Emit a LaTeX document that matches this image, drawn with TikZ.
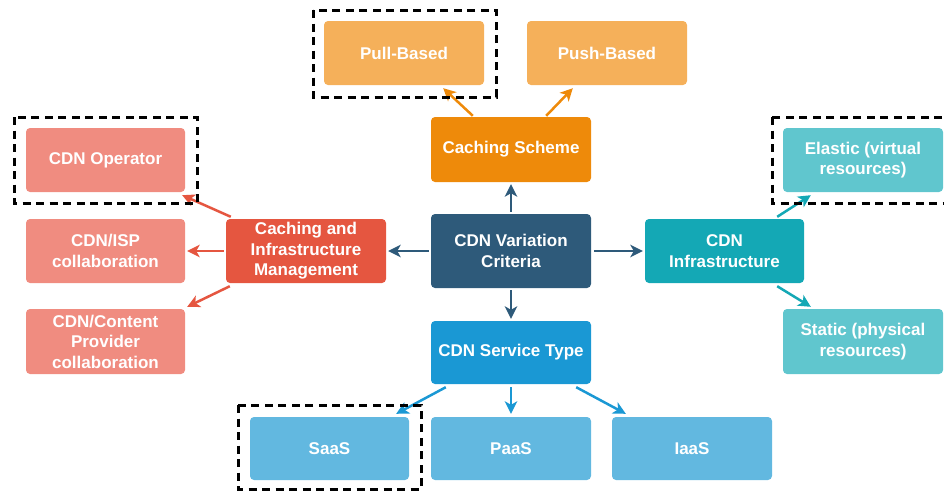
\documentclass[tikz,border=0pt]{standalone}
\usepackage{fontspec}
\setmainfont{Liberation Sans}
\usetikzlibrary{arrows.meta}

\definecolor{cdark}{HTML}{2E5A7A}
\definecolor{corange}{HTML}{EE8A0A}
\definecolor{corangel}{HTML}{F5B05A}
\definecolor{cred}{HTML}{E55640}
\definecolor{credl}{HTML}{F08C80}
\definecolor{cteal}{HTML}{14A8B5}
\definecolor{ctealb}{HTML}{60C6CE}
\definecolor{cblue}{HTML}{1A98D4}
\definecolor{cbluel}{HTML}{62B8E0}

\tikzset{
  box/.style={rectangle, rounded corners=4pt, text=white, align=center,
    font=\fontsize{17}{20.5}\selectfont\bfseries,
    minimum width=160pt, minimum height=64pt, inner sep=2pt},
  arr/.style={line width=2.5pt,
    -{Stealth[length=12.5pt,width=12.5pt,inset=3.5pt]}},
  hl/.style={draw=black, line width=3pt, dash pattern=on 8pt off 5.5pt}
}

\begin{document}
\begin{tikzpicture}[x=1pt,y=-1pt]
\useasboundingbox (0,0) rectangle (944,491);
\clip (0,0) rectangle (944,491);

% main node
\node[box, fill=cdark, minimum height=74pt] (crit) at (511,251) {CDN Variation\\Criteria};

% caching scheme branch
\node[box, fill=corange, minimum height=65pt] (scheme) at (511,149.5) {Caching Scheme};
\node[box, fill=corangel] (pull) at (404,53) {Pull-Based};
\node[box, fill=corangel] (push) at (607,53) {Push-Based};

% management branch
\node[box, fill=cred] (mgmt) at (306,251) {Caching and\\Infrastructure\\Management};
\node[box, fill=credl, minimum width=159pt] (oper) at (105.5,160) {CDN Operator};
\node[box, fill=credl, minimum width=159pt] (isp) at (105.5,251) {CDN/ISP\\collaboration};
\node[box, fill=credl, minimum width=159pt, minimum height=65pt] (cprov) at (105.5,341.5) {CDN/Content\\Provider\\collaboration};

% infrastructure branch
\node[box, fill=cteal, minimum width=159pt] (infra) at (724.5,251) {CDN\\Infrastructure};
\node[box, fill=ctealb] (elastic) at (863,160) {Elastic (virtual\\resources)};
\node[box, fill=ctealb, minimum height=65pt] (static) at (863,341.5) {Static (physical\\resources)};

% service type branch
\node[box, fill=cblue, minimum height=63pt] (service) at (511,352.5) {CDN Service Type};
\node[box, fill=cbluel, minimum width=159pt, minimum height=63pt] (saas) at (329.5,448.5) {SaaS};
\node[box, fill=cbluel, minimum height=63pt] (paas) at (511,448.5) {PaaS};
\node[box, fill=cbluel, minimum height=63pt] (iaas) at (692,448.5) {IaaS};

% connectors from the main node
\draw[arr, cdark, shorten <=2pt, shorten >=2pt] (crit.north) -- (scheme.south);
\draw[arr, cdark, shorten <=2pt, shorten >=2pt] (crit.south) -- (service.north);
\draw[arr, cdark, shorten <=2pt, shorten >=2pt] (crit.west) -- (mgmt.east);
\draw[arr, cdark, shorten <=3pt, shorten >=2pt] (crit.east) -- (infra.west);

% caching scheme children
\draw[arr, corange] ([xshift=42pt,yshift=1pt]scheme.north west) -- ([xshift=-41pt,yshift=-3pt]pull.south east);
\draw[arr, corange] ([xshift=-45pt,yshift=1pt]scheme.north east) -- ([xshift=46pt,yshift=-3pt]push.south west);

% management children
\draw[arr, cred] ([xshift=5pt,yshift=2pt]mgmt.north west) -- ([xshift=-3pt,yshift=-3pt]oper.south east);
\draw[arr, cred, shorten <=2pt, shorten >=2pt] (mgmt.west) -- (isp.east);
\draw[arr, cred] ([xshift=4pt,yshift=-3pt]mgmt.south west) -- ([xshift=2pt,yshift=2pt]cprov.north east);

% infrastructure children
\draw[arr, cteal] ([xshift=-27pt,yshift=2pt]infra.north east) -- ([xshift=28pt,yshift=-3pt]elastic.south west);
\draw[arr, cteal] ([xshift=-27pt,yshift=-3pt]infra.south east) -- ([xshift=28pt,yshift=2pt]static.north west);

% service type children
\draw[arr, cblue] ([xshift=15pt,yshift=-3pt]service.south west) -- ([xshift=-13pt,yshift=3pt]saas.north east);
\draw[arr, cblue, shorten <=3pt, shorten >=3pt] (service.south) -- (paas.north);
\draw[arr, cblue] ([xshift=-15pt,yshift=-3pt]service.south east) -- ([xshift=14pt,yshift=3pt]iaas.north west);

% highlighted choices
\draw[hl] (313,10) rectangle (496,97);
\draw[hl] (14,117) rectangle (197,203);
\draw[hl] (772,117) rectangle (960,203);
\draw[hl] (238,405) rectangle (421,489);
\end{tikzpicture}
\end{document}
